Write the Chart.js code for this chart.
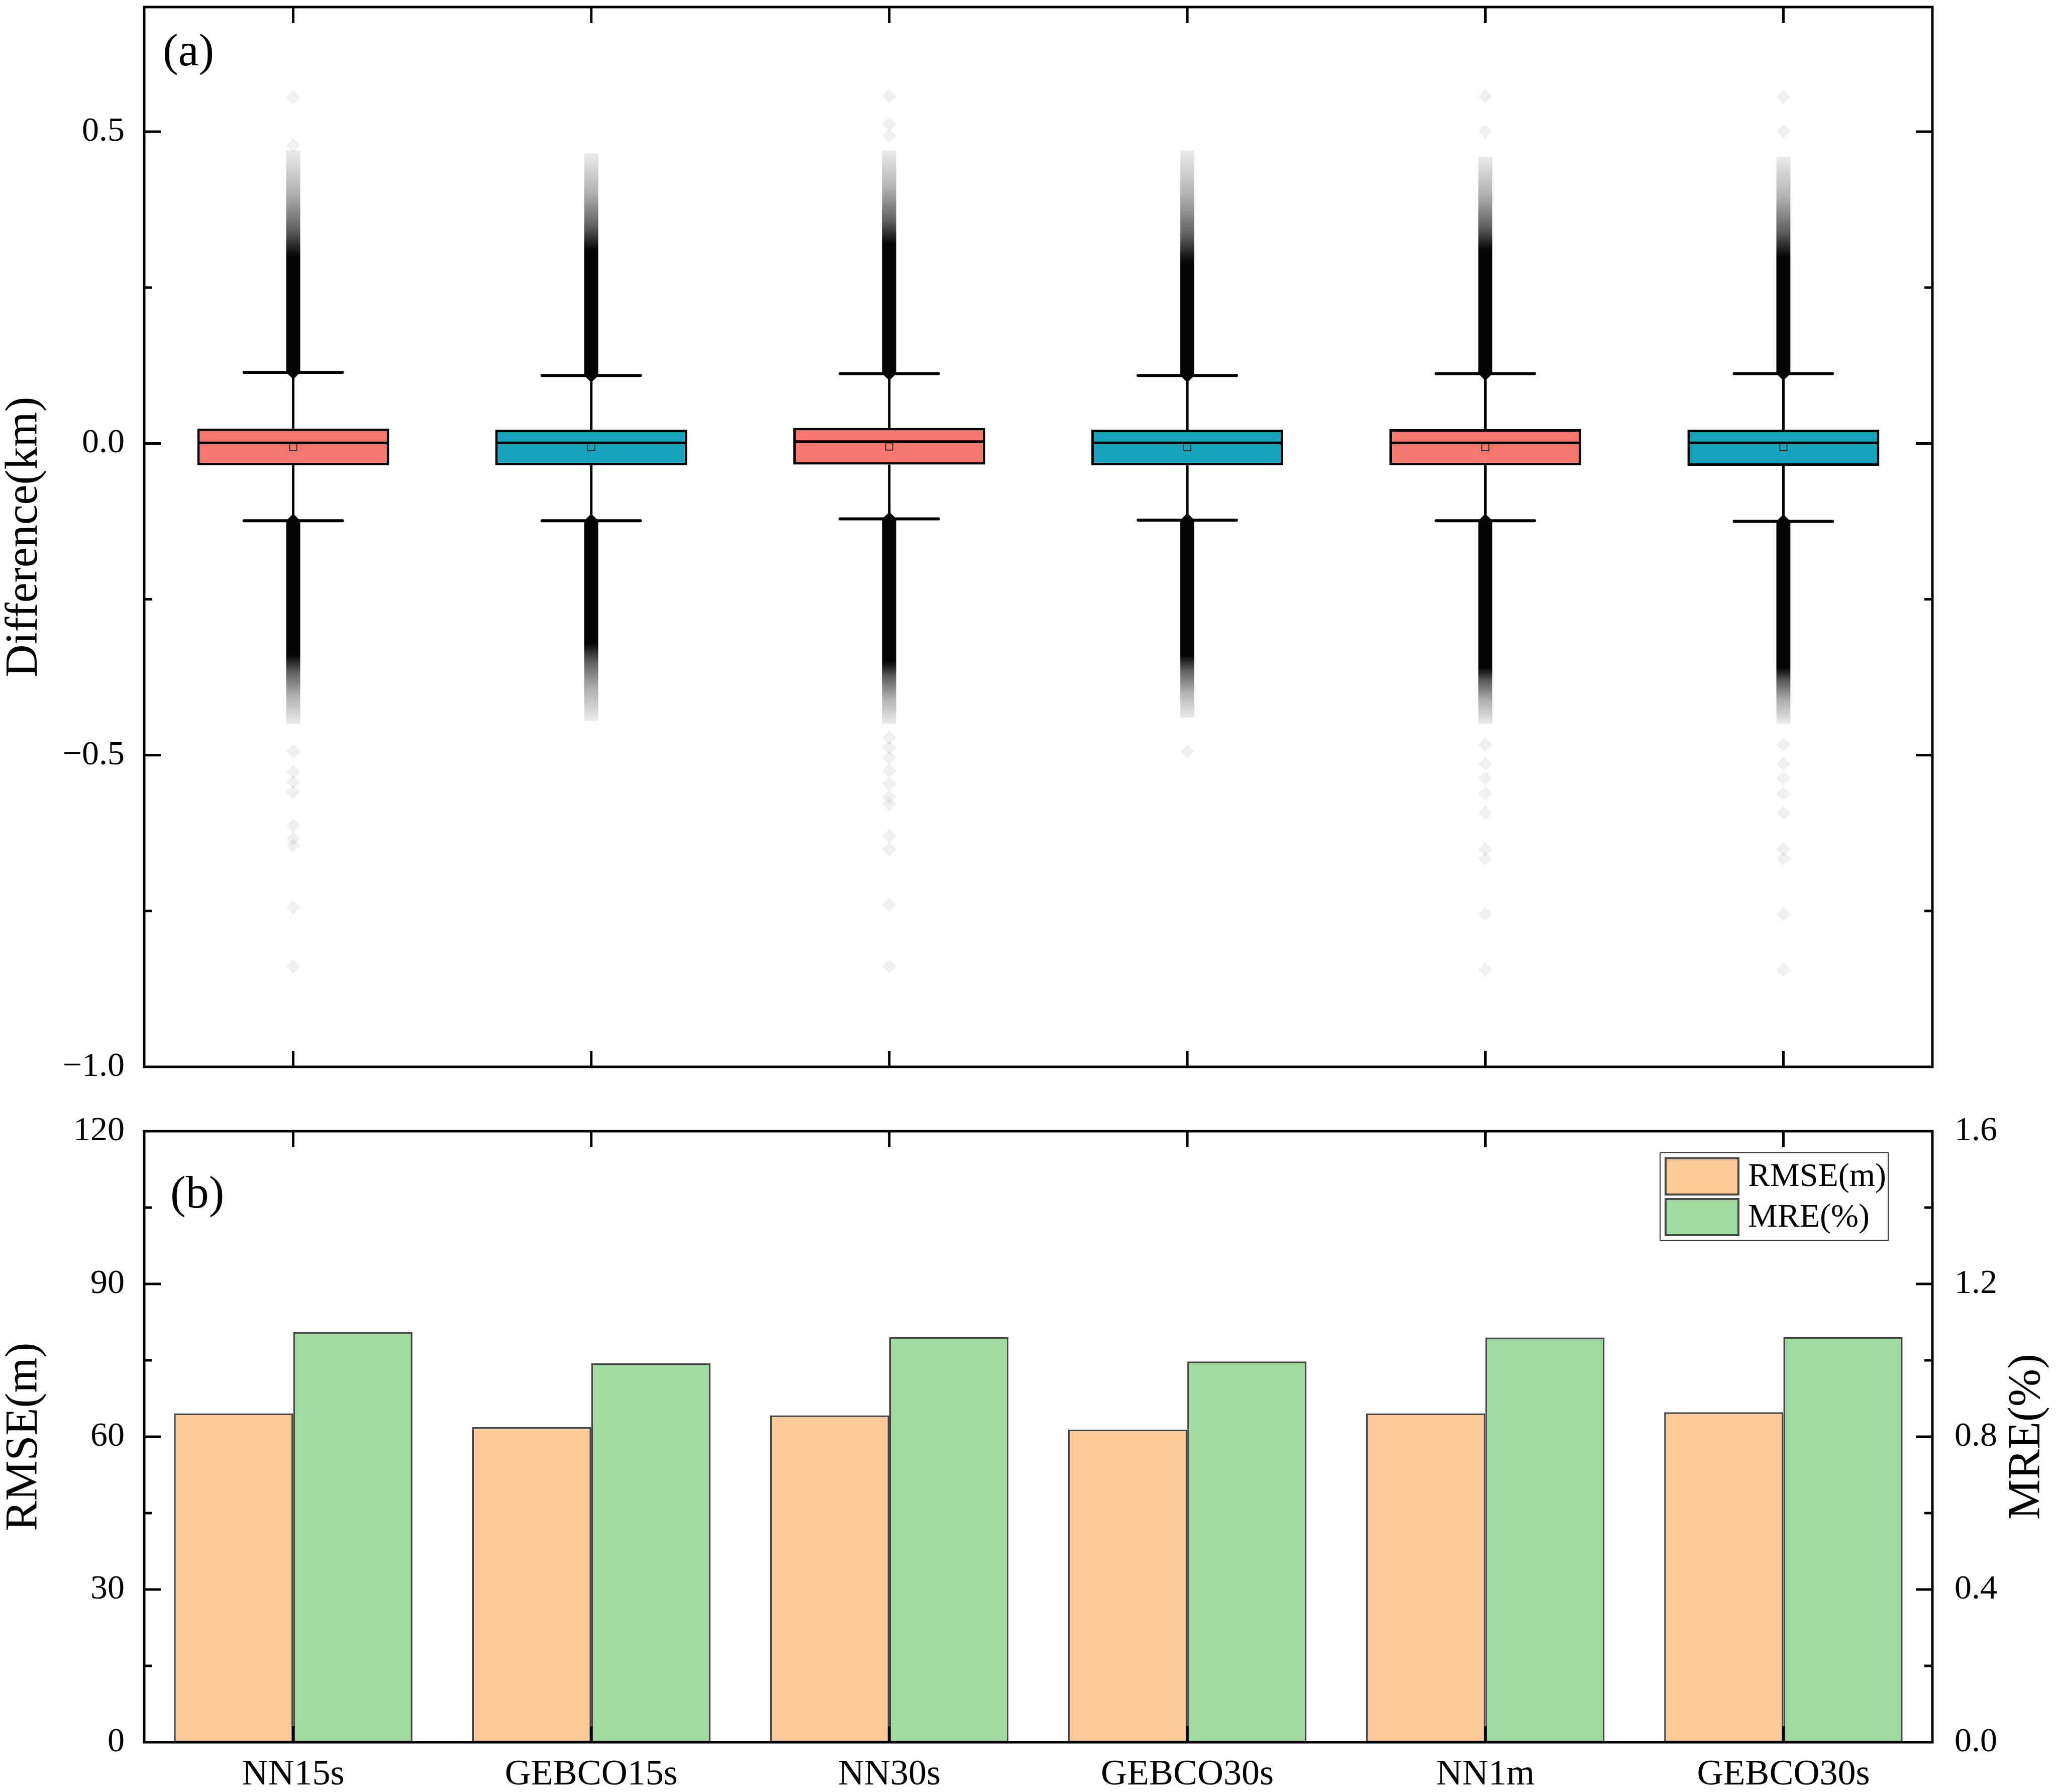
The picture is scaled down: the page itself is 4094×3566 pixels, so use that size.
<!DOCTYPE html>
<html>
<head>
<meta charset="utf-8">
<script src="https://cdn.jsdelivr.net/npm/chart.js@4.4.1/dist/chart.umd.min.js"></script>
<style>
  html, body { margin: 0; padding: 0; background: #fff; }
  #wrap { position: relative; width: 4094px; height: 3566px; }
  canvas { position: absolute; left: 0; }
  #boxCanvas { top: 0; width: 4094px; height: 2200px; }
  #barCanvas { top: 2200px; width: 4094px; height: 1366px; }
</style>
</head>
<body>
<div id="wrap">
  <canvas id="boxCanvas" width="4094" height="2200"></canvas>
  <canvas id="barCanvas" width="4094" height="1366"></canvas>
</div>
<script>
const categories = ['NN15s', 'GEBCO15s', 'NN30s', 'GEBCO30s', 'NN1m', 'GEBCO30s'];

// (a) box statistics (km)
const q1          = [-0.035, -0.035, -0.034, -0.035, -0.035, -0.036];
const median      = [0.001, 0.001, 0.003, 0.001, 0.001, 0.001];
const q3          = [0.024, 0.022, 0.025, 0.022, 0.023, 0.022];
const mean        = [-0.006, -0.006, -0.005, -0.006, -0.006, -0.006];
const whiskerLow  = [-0.124, -0.124, -0.121, -0.123, -0.124, -0.125];
const whiskerHigh = [0.114, 0.109, 0.112, 0.109, 0.112, 0.112];

// outlier clouds: solid black up to dense*, faded out by fade*
const denseHigh = [0.30, 0.31, 0.32, 0.29, 0.31, 0.30];
const fadeHigh  = [0.47, 0.465, 0.47, 0.47, 0.46, 0.46];
const denseLow  = [-0.34, -0.32, -0.35, -0.34, -0.36, -0.36];
const fadeLow   = [-0.45, -0.445, -0.45, -0.44, -0.45, -0.45];

// isolated outliers beyond the clouds
const sparseOutliers = [
  [0.555, 0.478, -0.494, -0.527, -0.543, -0.559, -0.613, -0.634, -0.645, -0.744, -0.839],
  [],
  [0.557, 0.512, 0.494, -0.472, -0.488, -0.504, -0.525, -0.546, -0.567, -0.578, -0.630, -0.651, -0.740, -0.839],
  [-0.494],
  [0.557, 0.501, -0.483, -0.514, -0.537, -0.562, -0.593, -0.651, -0.666, -0.755, -0.844],
  [0.556, 0.501, -0.483, -0.514, -0.537, -0.562, -0.593, -0.651, -0.666, -0.755, -0.844],
];

// (b) error metrics
const rmse = [64.6, 61.9, 64.2, 61.4, 64.6, 64.8];
const mre  = [1.074, 0.992, 1.061, 0.997, 1.060, 1.061];

const boxColors = ['#F4766D', '#16A5BD', '#F4766D', '#16A5BD', '#F4766D', '#16A5BD'];

const serif = "'Liberation Serif', 'Times New Roman', serif";
Chart.defaults.font.family = serif;
Chart.defaults.color = '#000';

const minus = s => s.replace('-', '\u2212');

// keep the plot area exactly where the padding puts it
const noOverhang = s => { s.paddingTop = 0; s.paddingBottom = 0; s.paddingLeft = 0; s.paddingRight = 0; };

// frame + inward ticks on all four sides
function drawFrame(chart, leftId, rightId) {
  const { ctx, chartArea: a } = chart;
  const x = chart.scales.x;
  ctx.save();
  ctx.strokeStyle = '#000';
  ctx.lineWidth = 5;
  ctx.beginPath();
  categories.forEach((_, i) => {
    const px = x.getPixelForValue(i);
    ctx.moveTo(px, a.bottom); ctx.lineTo(px, a.bottom - 32);
    ctx.moveTo(px, a.top);    ctx.lineTo(px, a.top + 32);
  });
  const side = (scale, onLeft) => {
    scale.ticks.forEach(t => {
      const py = scale.getPixelForValue(t.value);
      if (py < a.top + 2 || py > a.bottom - 2) return;
      const len = t.label !== '' ? 33 : 16;
      if (onLeft) { ctx.moveTo(a.left, py); ctx.lineTo(a.left + len, py); }
      else        { ctx.moveTo(a.right, py); ctx.lineTo(a.right - len, py); }
    });
  };
  side(chart.scales[leftId], true);
  side(chart.scales[rightId], false);
  ctx.stroke();
  ctx.strokeRect(a.left, a.top, a.right - a.left, a.bottom - a.top);
  ctx.restore();
}

const panelLabel = {
  id: 'panelLabel',
  afterDraw(chart, args, opts) {
    const { ctx, chartArea: a } = chart;
    ctx.save();
    ctx.font = '92px ' + serif;
    ctx.fillStyle = '#000';
    ctx.textBaseline = 'middle';
    ctx.fillText(opts.text, a.left + opts.dx, a.top + opts.dy);
    ctx.restore();
  }
};

// ---------- (a) box plot ----------
const boxParts = {
  id: 'boxParts',
  beforeDatasetsDraw(chart) {
    const { ctx, scales: { x, y } } = chart;
    const slot = x.getPixelForValue(1) - x.getPixelForValue(0);
    ctx.save();
    ctx.strokeStyle = '#000';
    categories.forEach((_, i) => {
      const cx = x.getPixelForValue(i);
      ctx.lineWidth = 5;
      ctx.lineCap = 'butt';
      ctx.beginPath();
      ctx.moveTo(cx, y.getPixelForValue(whiskerHigh[i])); ctx.lineTo(cx, y.getPixelForValue(q3[i]));
      ctx.moveTo(cx, y.getPixelForValue(q1[i]));          ctx.lineTo(cx, y.getPixelForValue(whiskerLow[i]));
      ctx.stroke();
      ctx.lineWidth = 6;
      ctx.lineCap = 'round';
      const half = slot * 0.165;
      [whiskerHigh[i], whiskerLow[i]].forEach(v => {
        const py = y.getPixelForValue(v);
        ctx.beginPath(); ctx.moveTo(cx - half, py); ctx.lineTo(cx + half, py); ctx.stroke();
      });
    });
    ctx.restore();
  },
  afterDatasetsDraw(chart) {
    const { ctx, scales: { x, y } } = chart;
    const slot = x.getPixelForValue(1) - x.getPixelForValue(0);
    const half = slot * 0.322 - 2;
    ctx.save();
    ctx.strokeStyle = '#000';
    ctx.lineWidth = 5;
    categories.forEach((_, i) => {
      const cx = x.getPixelForValue(i);
      const py = y.getPixelForValue(median[i]);
      ctx.beginPath(); ctx.moveTo(cx - half, py); ctx.lineTo(cx + half, py); ctx.stroke();
    });
    ctx.restore();
  },
  afterDraw(chart) { drawFrame(chart, 'y', 'y'); }
};

// gradient for an outlier cloud: solid from start to dense, fading out to fade
function cloudFill(start, dense, fade) {
  return c => {
    const chart = c.chart;
    const y = chart.scales.y;
    if (!chart.chartArea || !y || c.dataIndex === undefined) return '#050505';
    const i = c.dataIndex;
    const p0 = y.getPixelForValue(start[i]);
    const pd = y.getPixelForValue(dense[i]);
    const p1 = y.getPixelForValue(fade[i]);
    const s = (pd - p0) / (p1 - p0);
    const g = chart.ctx.createLinearGradient(0, p0, 0, p1);
    g.addColorStop(0, '#050505');
    g.addColorStop(s, '#050505');
    g.addColorStop(s + (1 - s) * 0.25, 'rgba(0,0,0,0.62)');
    g.addColorStop(s + (1 - s) * 0.6, 'rgba(0,0,0,0.3)');
    g.addColorStop(1, 'rgba(0,0,0,0.08)');
    return g;
  };
}

// point datasets use category indices directly (labels repeat, so no label lookup)
const sparsePoints = [];
sparseOutliers.forEach((list, i) => list.forEach(v => sparsePoints.push({ x: i, y: v })));
const tipPoints = categories.flatMap((_, i) => [{ x: i, y: whiskerLow[i] }, { x: i, y: whiskerHigh[i] }]);
const meanPoints = mean.map((v, i) => ({ x: i, y: v }));

new Chart(document.getElementById('boxCanvas'), {
  type: 'bar',
  data: {
    labels: categories,
    datasets: [
      {
        type: 'line', label: 'mean', data: meanPoints, parsing: false, order: 1,
        showLine: false, pointStyle: 'rect', pointRadius: 10,
        backgroundColor: 'rgba(0,0,0,0)', borderColor: '#333', borderWidth: 2,
      },
      {
        label: 'box', data: categories.map((_, i) => [q1[i], q3[i]]), order: 2,
        grouped: false, categoryPercentage: 1, barPercentage: 0.644,
        backgroundColor: boxColors, borderColor: '#000', borderWidth: 5, borderSkipped: false,
      },
      {
        type: 'line', label: 'tips', data: tipPoints, parsing: false, order: 3,
        showLine: false, pointStyle: 'rectRot', pointRadius: 14,
        backgroundColor: '#050505', borderWidth: 0,
      },
      {
        label: 'high outliers', data: categories.map((_, i) => [whiskerHigh[i], fadeHigh[i]]), order: 4,
        grouped: false, categoryPercentage: 1, barPercentage: 0.047, borderWidth: 0,
        backgroundColor: cloudFill(whiskerHigh, denseHigh, fadeHigh),
      },
      {
        label: 'low outliers', data: categories.map((_, i) => [fadeLow[i], whiskerLow[i]]), order: 4,
        grouped: false, categoryPercentage: 1, barPercentage: 0.047, borderWidth: 0,
        backgroundColor: cloudFill(whiskerLow, denseLow, fadeLow),
      },
      {
        type: 'line', label: 'outliers', data: sparsePoints, parsing: false, order: 5,
        showLine: false, pointStyle: 'rectRot', pointRadius: 14,
        backgroundColor: 'rgba(0,0,0,0.06)', borderWidth: 0,
      },
    ],
  },
  options: {
    responsive: false, devicePixelRatio: 1, animation: false,
    layout: { padding: { top: 12, right: 248, left: 0, bottom: 0 } },
    plugins: {
      legend: { display: false }, tooltip: { enabled: false },
      panelLabel: { text: '(a)', dx: 37, dy: 92 },
    },
    scales: {
      x: {
        type: 'category', offset: true,
        grid: { display: false, drawTicks: false }, border: { display: false },
        ticks: { display: false },
        afterFit: s => { s.height = 77; noOverhang(s); },
      },
      y: {
        min: -1.0, max: 0.7,
        grid: { display: false, drawTicks: false }, border: { display: false },
        ticks: {
          stepSize: 0.25, includeBounds: false, padding: 39, font: { size: 68 },
          callback: v => Math.abs(v * 2 - Math.round(v * 2)) < 1e-9 ? minus(v.toFixed(1)) : '',
        },
        title: { display: true, text: 'Difference(km)', font: { size: 90, lineHeight: 1.1 }, padding: 0 },
        afterFit: s => { s.width = 287; noOverhang(s); },
      },
    },
  },
  plugins: [boxParts, panelLabel],
});

// ---------- (b) bar chart ----------
const barExtras = {
  id: 'barExtras',
  afterDraw(chart) {
    drawFrame(chart, 'y', 'y1');
    const { ctx, chartArea: a } = chart;
    ctx.save();
    // right axis title, reading bottom to top like the left one
    ctx.font = '90px ' + serif;
    ctx.fillStyle = '#000';
    ctx.textAlign = 'center';
    ctx.textBaseline = 'middle';
    ctx.translate(a.right + 189, (a.top + a.bottom) / 2);
    ctx.rotate(-Math.PI / 2);
    ctx.fillText('MRE(%)', 0, 0);
    ctx.restore();

    // legend box in the upper right of the plot
    const w = 454, h = 174;
    const left = a.right - 88 - w, top = a.top + 43;
    ctx.save();
    ctx.fillStyle = '#fff';
    ctx.fillRect(left, top, w, h);
    ctx.lineWidth = 2;
    ctx.strokeStyle = '#333';
    ctx.strokeRect(left, top, w, h);
    chart.data.datasets.forEach((ds, k) => {
      const sy = top + 11 + k * 81;
      ctx.fillStyle = ds.backgroundColor;
      ctx.fillRect(left + 11, sy, 145, 72);
      ctx.lineWidth = 4;
      ctx.strokeStyle = '#474747';
      ctx.strokeRect(left + 11, sy, 145, 72);
      ctx.fillStyle = '#000';
      ctx.font = '66px ' + serif;
      ctx.textBaseline = 'middle';
      ctx.fillText(ds.label, left + 175, sy + 38);
    });
    ctx.restore();
  }
};

new Chart(document.getElementById('barCanvas'), {
  type: 'bar',
  data: {
    labels: categories,
    datasets: [
      {
        label: 'RMSE(m)', data: rmse, yAxisID: 'y',
        backgroundColor: '#FDCB99', borderColor: '#474747', borderWidth: 3.5, borderSkipped: false,
        categoryPercentage: 0.8, barPercentage: 1,
      },
      {
        label: 'MRE(%)', data: mre, yAxisID: 'y1',
        backgroundColor: '#A0DBA0', borderColor: '#474747', borderWidth: 3.5, borderSkipped: false,
        categoryPercentage: 0.8, barPercentage: 1,
      },
    ],
  },
  options: {
    responsive: false, devicePixelRatio: 1, animation: false,
    layout: { padding: { top: 51, right: 0, left: 0, bottom: 0 } },
    plugins: {
      legend: { display: false }, tooltip: { enabled: false },
      panelLabel: { text: '(b)', dx: 52, dy: 128 },
    },
    scales: {
      x: {
        offset: true,
        grid: { display: false, drawTicks: false }, border: { display: false },
        ticks: { font: { size: 72 }, padding: 22, maxRotation: 0, autoSkip: false },
        afterFit: s => { s.height = 99; noOverhang(s); },
      },
      y: {
        position: 'left', min: 0, max: 120,
        grid: { display: false, drawTicks: false }, border: { display: false },
        ticks: { stepSize: 15, padding: 39, font: { size: 68 }, callback: v => v % 30 === 0 ? String(v) : '' },
        title: { display: true, text: 'RMSE(m)', font: { size: 90, lineHeight: 1.1 }, padding: 0 },
        afterFit: s => { s.width = 287; noOverhang(s); },
      },
      y1: {
        position: 'right', min: 0, max: 1.6,
        grid: { display: false, drawTicks: false }, border: { display: false },
        ticks: {
          stepSize: 0.2, padding: 44, font: { size: 68 },
          callback: v => Math.abs(v / 0.4 - Math.round(v / 0.4)) < 1e-6 ? v.toFixed(1) : '',
        },
        afterFit: s => { s.width = 248; noOverhang(s); },
      },
    },
  },
  plugins: [barExtras, panelLabel],
});
</script>
</body>
</html>
